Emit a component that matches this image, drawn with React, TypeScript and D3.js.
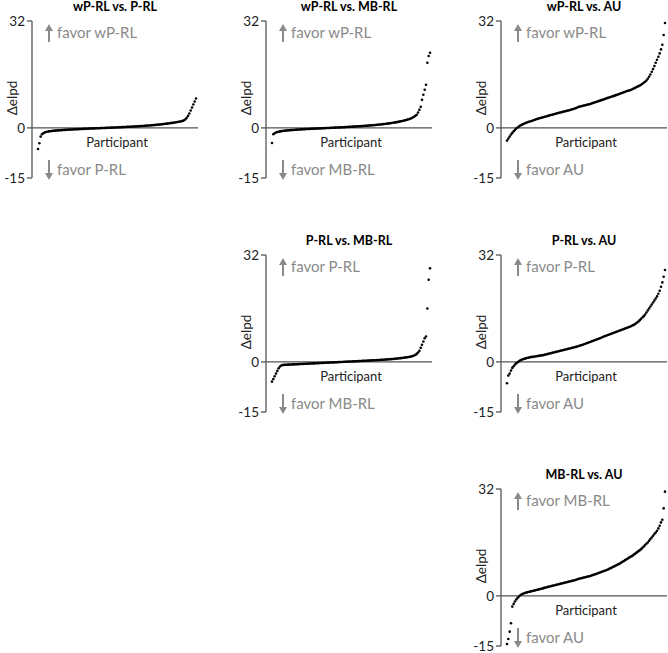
import React from 'react';
import * as d3 from 'd3';

// Sorted Δelpd per participant
const wpVsP = [
  -6.3, -4.6, -2.6, -1.9, -1.6, -1.4, -1.25, -1.15, -1.05, -1.0,
  -0.95, -0.9, -0.86, -0.82, -0.78, -0.75, -0.72, -0.69, -0.66, -0.63,
  -0.6, -0.58, -0.55, -0.53, -0.5, -0.48, -0.46, -0.44, -0.42, -0.4,
  -0.38, -0.36, -0.34, -0.32, -0.3, -0.28, -0.26, -0.24, -0.22, -0.2,
  -0.18, -0.17, -0.15, -0.13, -0.12, -0.1, -0.09, -0.07, -0.05, -0.04,
  -0.02, 0.0, 0.02, 0.04, 0.05, 0.07, 0.09, 0.1, 0.12, 0.14,
  0.16, 0.18, 0.2, 0.22, 0.24, 0.26, 0.28, 0.3, 0.32, 0.34,
  0.36, 0.38, 0.41, 0.43, 0.45, 0.48, 0.5, 0.53, 0.55, 0.58,
  0.61, 0.64, 0.67, 0.7, 0.73, 0.76, 0.8, 0.83, 0.87, 0.91,
  0.95, 0.99, 1.03, 1.07, 1.12, 1.17, 1.22, 1.27, 1.32, 1.38,
  1.44, 1.5, 1.56, 1.62, 1.68, 1.75, 1.82, 1.9, 1.98, 2.1,
  2.3, 2.6, 3.0, 3.6, 4.3, 5.2, 6.1, 7.0, 7.9, 8.8,
];

const wpVsMb = [
  -4.5, -1.9, -1.6, -1.4, -1.25, -1.15, -1.05, -0.98, -0.92, -0.87,
  -0.82, -0.78, -0.74, -0.7, -0.67, -0.64, -0.61, -0.58, -0.55, -0.52,
  -0.5, -0.47, -0.45, -0.42, -0.4, -0.38, -0.35, -0.33, -0.31, -0.29,
  -0.27, -0.25, -0.23, -0.21, -0.19, -0.17, -0.15, -0.13, -0.11, -0.09,
  -0.07, -0.05, -0.03, -0.01, 0.01, 0.03, 0.05, 0.07, 0.09, 0.11,
  0.13, 0.15, 0.17, 0.19, 0.21, 0.23, 0.25, 0.27, 0.3, 0.32,
  0.34, 0.37, 0.39, 0.42, 0.44, 0.47, 0.5, 0.52, 0.55, 0.58,
  0.61, 0.64, 0.67, 0.7, 0.74, 0.77, 0.81, 0.84, 0.88, 0.92,
  0.96, 1.0, 1.04, 1.09, 1.13, 1.18, 1.23, 1.28, 1.34, 1.4,
  1.46, 1.52, 1.58, 1.65, 1.72, 1.8, 1.88, 1.96, 2.05, 2.15,
  2.25, 2.36, 2.48, 2.6, 2.75, 2.9, 3.1, 3.35, 3.6, 3.9,
  4.6, 5.4, 6.3, 8.4, 9.9, 11.4, 12.9, 19.5, 21.5, 22.5,
];

const wpVsAu = [
  -3.8, -3.2, -2.6, -2.0, -1.5, -1.0, -0.6, -0.2, 0.1, 0.4,
  0.7, 0.9, 1.1, 1.3, 1.45, 1.6, 1.75, 1.9, 2.0, 2.15,
  2.3, 2.45, 2.6, 2.7, 2.8, 2.95, 3.05, 3.15, 3.25, 3.4,
  3.5, 3.6, 3.75, 3.85, 3.95, 4.05, 4.15, 4.3, 4.4, 4.5,
  4.6, 4.7, 4.8, 4.9, 5.0, 5.1, 5.2, 5.3, 5.45, 5.55,
  5.65, 5.8, 5.95, 6.1, 6.3, 6.4, 6.5, 6.6, 6.7, 6.8,
  6.9, 7.0, 7.1, 7.2, 7.35, 7.5, 7.6, 7.75, 7.9, 8.0,
  8.15, 8.3, 8.4, 8.55, 8.7, 8.85, 9.0, 9.1, 9.25, 9.4,
  9.5, 9.65, 9.8, 9.9, 10.05, 10.2, 10.35, 10.5, 10.65, 10.8,
  10.95, 11.1, 11.2, 11.35, 11.5, 11.7, 11.9, 12.1, 12.3, 12.5,
  12.7, 12.9, 13.2, 13.5, 13.8, 14.2, 14.7, 15.3, 16.0, 16.8,
  17.6, 18.5, 19.5, 20.4, 21.3, 22.3, 23.5, 24.9, 27.8, 31.4,
];

const pVsMb = [
  -5.9, -5.1, -4.3, -3.5, -2.7, -1.9, -1.4, -1.1, -0.95, -0.9,
  -0.87, -0.85, -0.83, -0.81, -0.79, -0.77, -0.75, -0.73, -0.71, -0.69,
  -0.67, -0.65, -0.63, -0.61, -0.59, -0.57, -0.55, -0.53, -0.51, -0.49,
  -0.47, -0.45, -0.43, -0.41, -0.39, -0.37, -0.35, -0.33, -0.31, -0.29,
  -0.27, -0.25, -0.23, -0.21, -0.19, -0.17, -0.15, -0.13, -0.11, -0.09,
  -0.07, -0.05, -0.03, -0.01, 0.01, 0.03, 0.05, 0.07, 0.09, 0.11,
  0.13, 0.15, 0.17, 0.19, 0.21, 0.23, 0.25, 0.27, 0.29, 0.31,
  0.33, 0.35, 0.37, 0.39, 0.41, 0.44, 0.46, 0.48, 0.51, 0.53,
  0.56, 0.58, 0.61, 0.63, 0.66, 0.69, 0.72, 0.75, 0.78, 0.81,
  0.84, 0.88, 0.91, 0.95, 0.99, 1.03, 1.07, 1.12, 1.17, 1.22,
  1.28, 1.34, 1.4, 1.47, 1.55, 1.64, 1.75, 1.9, 2.1, 2.4,
  2.8, 3.3, 4.2, 5.1, 6.1, 7.1, 7.6, 16.0, 24.6, 28.0,
];

const pVsAu = [
  -6.4, -4.1, -3.5, -2.6, -1.8, -1.3, -0.8, -0.4, -0.1, 0.2,
  0.45, 0.65, 0.8, 0.95, 1.05, 1.15, 1.25, 1.35, 1.45, 1.5,
  1.55, 1.6, 1.7, 1.75, 1.8, 1.9, 1.95, 2.0, 2.1, 2.2,
  2.3, 2.4, 2.5, 2.6, 2.7, 2.8, 2.9, 3.0, 3.1, 3.2,
  3.3, 3.4, 3.5, 3.6, 3.7, 3.8, 3.9, 4.0, 4.1, 4.2,
  4.3, 4.4, 4.5, 4.6, 4.75, 4.9, 5.0, 5.15, 5.3, 5.45,
  5.6, 5.75, 5.9, 6.05, 6.2, 6.35, 6.5, 6.65, 6.8, 6.95,
  7.1, 7.25, 7.45, 7.6, 7.75, 7.9, 8.05, 8.2, 8.35, 8.5,
  8.65, 8.8, 8.95, 9.1, 9.25, 9.4, 9.55, 9.7, 9.85, 10.0,
  10.15, 10.3, 10.45, 10.6, 10.8, 11.0, 11.2, 11.5, 11.8, 12.1,
  12.5, 12.9, 13.3, 13.7, 14.2, 14.8, 15.4, 16.0, 16.6, 17.2,
  17.8, 18.4, 19.0, 19.6, 20.4, 21.3, 22.5, 23.8, 25.5, 27.5,
];

const mbVsAu = [
  -14.4, -12.9, -10.7, -8.2, -3.2, -2.4, -1.7, -1.1, -0.6, -0.2,
  0.2, 0.45, 0.65, 0.8, 0.95, 1.05, 1.15, 1.25, 1.35, 1.45,
  1.55, 1.65, 1.75, 1.85, 1.95, 2.05, 2.15, 2.25, 2.4, 2.5,
  2.6, 2.7, 2.8, 2.9, 3.0, 3.1, 3.2, 3.3, 3.4, 3.5,
  3.6, 3.7, 3.8, 3.9, 4.0, 4.1, 4.2, 4.3, 4.4, 4.5,
  4.6, 4.7, 4.85, 5.0, 5.1, 5.2, 5.3, 5.4, 5.5, 5.6,
  5.7, 5.8, 5.9, 6.0, 6.15, 6.3, 6.4, 6.55, 6.7, 6.85,
  7.0, 7.15, 7.3, 7.45, 7.6, 7.75, 7.9, 8.1, 8.3, 8.5,
  8.7, 8.9, 9.1, 9.3, 9.5, 9.7, 9.95, 10.2, 10.45, 10.7,
  10.95, 11.2, 11.45, 11.7, 11.9, 12.2, 12.5, 12.8, 13.1, 13.4,
  13.7, 14.0, 14.4, 14.8, 15.2, 15.6, 16.0, 16.5, 17.0, 17.5,
  18.0, 18.5, 19.0, 19.5, 20.2, 21.0, 22.0, 22.8, 26.2, 31.2,
];

const titles = ['wP-RL vs. P-RL', 'wP-RL vs. MB-RL', 'wP-RL vs. AU', 'P-RL vs. MB-RL', 'P-RL vs. AU', 'MB-RL vs. AU'];
const upLabels = ['favor wP-RL', 'favor wP-RL', 'favor wP-RL', 'favor P-RL', 'favor P-RL', 'favor MB-RL'];
const downLabels = ['favor P-RL', 'favor MB-RL', 'favor AU', 'favor MB-RL', 'favor AU', 'favor AU'];
const seriesList = [wpVsP, wpVsMb, wpVsAu, pVsMb, pVsAu, mbVsAu];
const gridCols = [0, 1, 2, 1, 2, 2];
const gridRows = [0, 0, 0, 1, 1, 2];
const yTicks = [32, 0, -15];
const yDomain: [number, number] = [-15, 32];

const FONT = 'Lato, "Open Sans", sans-serif';
const AXIS = '#555555';
const GRAY = '#8a8a8a';

function Arrow({ x, y1, y2 }: { x: number; y1: number; y2: number }) {
  // y1 = tail, y2 = head
  const dir = y2 < y1 ? -1 : 1;
  const headLen = 7;
  const hw = 4;
  const base = y2 - dir * headLen;
  return (
    <g>
      <line x1={x} x2={x} y1={y1} y2={base} stroke={GRAY} strokeWidth={2} />
      <path d={`M${x - hw},${base}L${x + hw},${base}L${x},${y2}Z`} fill={GRAY} />
    </g>
  );
}

function Panel({ idx }: { idx: number }) {
  const colX = [32, 266, 501];
  const rowY = [21, 255, 489];
  const ax = colX[gridCols[idx]];
  const top = rowY[gridRows[idx]];
  const values = seriesList[idx];
  const y = d3.scaleLinear().domain(yDomain).range([top + 157, top]);
  const x = d3.scaleLinear().domain([0, values.length - 1]).range([ax + 6, ax + 164]);
  const y0 = y(0);
  const xEnd = ax + 166;
  return (
    <g>
      <text x={(ax + xEnd) / 2} y={top - 10} textAnchor="middle" fontFamily={FONT} fontWeight="bold" fontSize={12.5} fill="#000">
        {titles[idx]}
      </text>
      {/* y axis */}
      <line x1={ax} x2={ax} y1={y(32)} y2={y(-15)} stroke={AXIS} strokeWidth={1.3} />
      {yTicks.map((t) => (
        <g key={t}>
          <line x1={ax - 5} x2={ax} y1={y(t)} y2={y(t)} stroke={AXIS} strokeWidth={1.3} />
          <text x={ax - 7} y={y(t)} dy="0.35em" textAnchor="end" fontFamily={FONT} fontSize={13.5} fill="#222">
            {t}
          </text>
        </g>
      ))}
      {/* zero line */}
      <line x1={ax} x2={xEnd} y1={y0} y2={y0} stroke={AXIS} strokeWidth={1.3} />
      <text
        transform={`translate(${ax - 20},${top + 77}) rotate(-90)`}
        textAnchor="middle"
        dy="0.35em"
        fontFamily={FONT}
        fontSize={13.5}
        fill="#222"
      >
        Δelpd
      </text>
      <text x={(ax + xEnd) / 2 + 2} y={y0 + 19} textAnchor="middle" fontFamily={FONT} fontSize={13} fill="#222">
        Participant
      </text>
      <Arrow x={ax + 17} y1={top + 21} y2={top + 3} />
      <text x={ax + 25} y={top + 17} fontFamily={FONT} fontSize={15} fill={GRAY}>
        {upLabels[idx]}
      </text>
      <Arrow x={ax + 17} y1={y0 + 32} y2={y0 + 52} />
      <text x={ax + 25} y={y0 + 47} fontFamily={FONT} fontSize={15} fill={GRAY}>
        {downLabels[idx]}
      </text>
      {values.map((v, i) => (
        <circle key={i} cx={x(i)} cy={y(v)} r={1.3} fill="#000" />
      ))}
    </g>
  );
}

export default function App() {
  return (
    <svg width={668} height={653} style={{ position: 'absolute', left: 0, top: 0, background: '#fff' }}>
      {titles.map((_, i) => (
        <Panel key={i} idx={i} />
      ))}
    </svg>
  );
}
